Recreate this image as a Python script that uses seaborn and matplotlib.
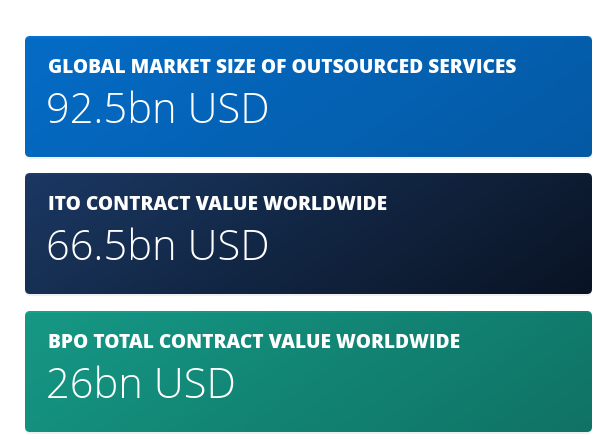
import numpy as np
import matplotlib
matplotlib.use("Agg")
import matplotlib.pyplot as plt
from matplotlib.patches import FancyBboxPatch
from matplotlib.colors import LinearSegmentedColormap
import seaborn as sns

titles = ["GLOBAL MARKET SIZE OF OUTSOURCED SERVICES",
          "ITO CONTRACT VALUE WORLDWIDE",
          "BPO TOTAL CONTRACT VALUE WORLDWIDE"]
values = ["92.5bn USD", "66.5bn USD", "26bn USD"]
colors = [("#0673d3", "#055fae"), ("#1d3c69", "#0a1526"), ("#18a28e", "#117a6b")]

sns.set_style("white")
plt.rcParams['font.family'] = ['Open Sans', 'DejaVu Sans']

fig = plt.figure(figsize=(6.14, 4.48), dpi=100)
ax = fig.add_axes([0, 0, 1, 1])
ax.set_xlim(0, 614)
ax.set_ylim(448, 0)
ax.axis("off")

tops = [36, 173, 311]
h = 121
x0, x1 = 25, 592
for top, t, v, (c0, c1) in zip(tops, titles, values, colors):
    # soft shadow
    sh = FancyBboxPatch((x0, top + 2), x1 - x0, h, boxstyle="round,pad=0,rounding_size=5",
                        fc="#000000", alpha=0.06, ec="none")
    ax.add_patch(sh)
    box = FancyBboxPatch((x0, top), x1 - x0, h, boxstyle="round,pad=0,rounding_size=5",
                         fc="none", ec="none")
    ax.add_patch(box)
    cmap = LinearSegmentedColormap.from_list("g", [c0, c1])
    grad = np.linspace(0, 1, 256).reshape(1, -1)
    grad = grad + np.linspace(0, 0.3, 50).reshape(-1, 1)
    im = ax.imshow(grad, cmap=cmap, extent=(x0, x1, top + h, top), aspect="auto",
                   vmin=0, vmax=1.3)
    im.set_clip_path(box)
    ax.text(48, top + 32, t, fontsize=13.8, fontweight="heavy", color="white", va="center")
    ax.text(46, top + 76, v, fontsize=30, fontweight="light", color="white", va="center")

fig.savefig("out.png", dpi=100)
